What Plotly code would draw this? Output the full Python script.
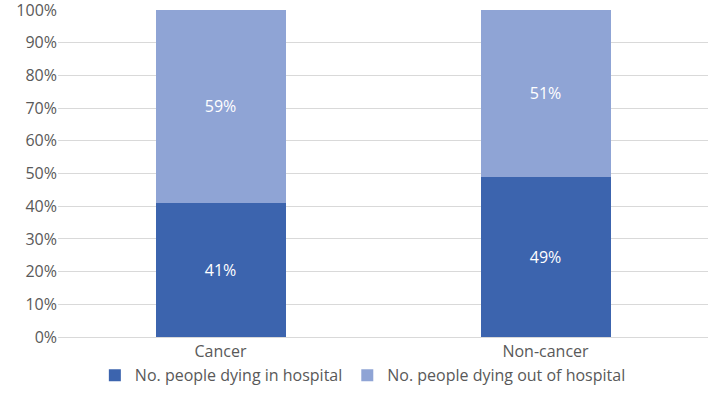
import plotly.graph_objects as go

categories = ["Cancer", "Non-cancer"]
in_hospital = [41, 49]
out_hospital = [59, 51]
series_names = ["No. people dying in hospital", "No. people dying out of hospital"]
tick_vals = [0, 10, 20, 30, 40, 50, 60, 70, 80, 90, 100]
tick_text = [f"{v}%" for v in tick_vals]

FONT = "Open Sans"
fig = go.Figure()
fig.add_trace(go.Bar(
    x=categories, y=in_hospital, name=series_names[0],
    marker=dict(color="#3C64AE", line=dict(width=0)),
    text=[f"{v}%" for v in in_hospital], textposition="inside",
    insidetextanchor="middle", textfont=dict(color="white", size=16, family=FONT),
    width=0.4,
))
fig.add_trace(go.Bar(
    x=categories, y=out_hospital, name=series_names[1],
    marker=dict(color="#8FA4D5", line=dict(width=0)),
    text=[f"{v}%" for v in out_hospital], textposition="inside",
    insidetextanchor="middle", textfont=dict(color="white", size=16, family=FONT),
    width=0.4,
))
fig.update_layout(
    barmode="stack",
    width=708, height=412,
    margin=dict(l=58, r=0, t=10, b=75),
    plot_bgcolor="white", paper_bgcolor="white",
    font=dict(family=FONT, color="#595959", size=16),
    showlegend=True,
    legend=dict(orientation="h", x=0.469, xanchor="center", y=-0.117, yanchor="middle",
                font=dict(size=16, color="#595959"), traceorder="normal",
                itemwidth=30),
    uniformtext=dict(mode="show", minsize=10),
)
fig.update_yaxes(range=[0, 100], tickvals=tick_vals, ticktext=tick_text,
                 showgrid=True, gridcolor="#D9D9D9", gridwidth=1,
                 zeroline=False, showline=False, ticks="", ticklen=0,
                 ticklabeloverflow="allow", automargin=False,
                 tickfont=dict(size=16, color="#595959"))
fig.update_xaxes(showline=True, linecolor="#D9D9D9", linewidth=1, ticks="",
                 automargin=False,
                 tickfont=dict(size=16, color="#595959"))
fig.write_html("out.html")
